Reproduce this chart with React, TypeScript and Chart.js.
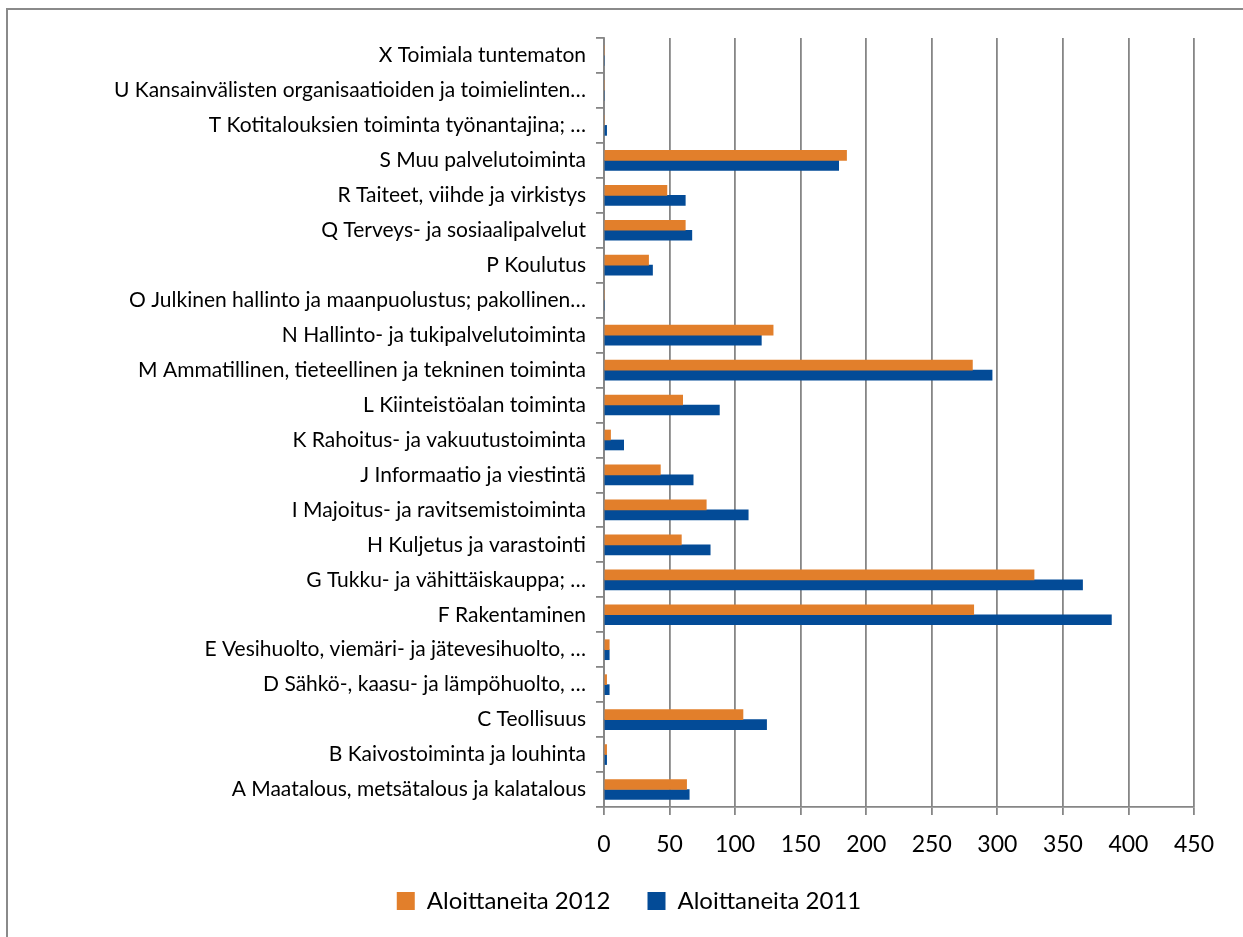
import React, { useEffect, useRef } from "react";
import { Chart, registerables } from "chart.js";

Chart.register(...registerables);

const categories = [
  "X Toimiala tuntematon",
  "U Kansainvälisten organisaatioiden ja toimielinten…",
  "T Kotitalouksien toiminta työnantajina; …",
  "S Muu palvelutoiminta",
  "R Taiteet, viihde ja virkistys",
  "Q Terveys- ja sosiaalipalvelut",
  "P Koulutus",
  "O Julkinen hallinto ja maanpuolustus; pakollinen…",
  "N Hallinto- ja tukipalvelutoiminta",
  "M Ammatillinen, tieteellinen ja tekninen toiminta",
  "L Kiinteistöalan toiminta",
  "K Rahoitus- ja vakuutustoiminta",
  "J Informaatio ja viestintä",
  "I Majoitus- ja ravitsemistoiminta",
  "H Kuljetus ja varastointi",
  "G Tukku- ja vähittäiskauppa; …",
  "F Rakentaminen",
  "E Vesihuolto, viemäri- ja jätevesihuolto, …",
  "D Sähkö-, kaasu- ja lämpöhuolto, …",
  "C Teollisuus",
  "B Kaivostoiminta ja louhinta",
  "A Maatalous, metsätalous ja kalatalous",
];

const values2012 = [0, 0, 0, 185, 48, 62, 34, 0, 129, 281, 60, 5, 43, 78, 59, 328, 282, 4, 2, 106, 2, 63];
const values2011 = [0, 0, 2, 179, 62, 67, 37, 0, 120, 296, 88, 15, 68, 110, 81, 365, 387, 4, 4, 124, 2, 65];

const seriesLabels = ["Aloittaneita 2012", "Aloittaneita 2011"];
const seriesColors = ["#E27F2B", "#034B97"];

const xMin = 0;
const xMax = 450;
const xStep = 50;

const FONT = "Lato, 'Open Sans', sans-serif";
const GRID = "#868686";

const legendShift = {
  id: "legendShift",
  afterLayout(chart: any) {
    const lg = chart.legend;
    if (lg) {
      lg.left += 28;
      lg.right += 28;
    }
  },
};

export default function App() {
  const canvasRef = useRef<HTMLCanvasElement | null>(null);

  useEffect(() => {
    const canvas = canvasRef.current;
    if (!canvas) return;
    const chart = new Chart(canvas, {
      type: "bar",
      data: {
        labels: categories,
        datasets: [
          {
            label: seriesLabels[0],
            data: values2012,
            backgroundColor: seriesColors[0],
            borderWidth: 0,
            barThickness: 10,
          },
          {
            label: seriesLabels[1],
            data: values2011,
            backgroundColor: seriesColors[1],
            borderWidth: 0,
            barThickness: 10,
          },
        ],
      },
      plugins: [legendShift],
      options: {
        indexAxis: "y",
        responsive: false,
        animation: false,
        layout: { padding: { top: 28, right: 49, bottom: 14, left: 0 } },
        plugins: {
          tooltip: { enabled: false },
          title: { display: false },
          legend: {
            display: true,
            position: "bottom",
            labels: {
              boxWidth: 18,
              boxHeight: 18,
              padding: 37,
              color: "#000",
              font: { family: FONT, size: 24 },
            },
          },
        },
        scales: {
          x: {
            type: "linear",
            min: xMin,
            max: xMax,
            ticks: {
              stepSize: xStep,
              color: "#000",
              font: { family: FONT, size: 23 },
              padding: 16,
            },
            grid: {
              color: GRID,
              lineWidth: 1.8,
              drawOnChartArea: true,
              drawTicks: true,
              tickLength: 8,
            },
            border: { display: true, color: GRID, width: 1.8 },
            afterFit: (scale: any) => {
              scale.height = 45;
            },
          },
          y: {
            type: "category",
            ticks: {
              autoSkip: false,
              color: "#000",
              font: { family: FONT, size: 21 },
              padding: 10,
            },
            grid: {
              offset: true,
              drawOnChartArea: false,
              drawTicks: true,
              tickLength: 8,
              color: GRID,
              lineWidth: 1.8,
            },
            border: { display: true, color: GRID, width: 1.8 },
            afterFit: (scale: any) => {
              scale.width = 596;
            },
          },
        },
      },
    });
    return () => chart.destroy();
  }, []);

  return (
    <div
      style={{
        position: "fixed",
        left: 0,
        top: 0,
        width: 1243,
        height: 937,
        overflow: "hidden",
        background: "#fff",
      }}
    >
      <div
        style={{
          position: "absolute",
          left: 6,
          top: 8,
          width: 1260,
          height: 950,
          border: "2px solid #8a8a8a",
          boxSizing: "border-box",
        }}
      >
        <canvas
          ref={canvasRef}
          width={1235}
          height={927}
          style={{ display: "block", width: 1235, height: 927 }}
        />
      </div>
    </div>
  );
}
